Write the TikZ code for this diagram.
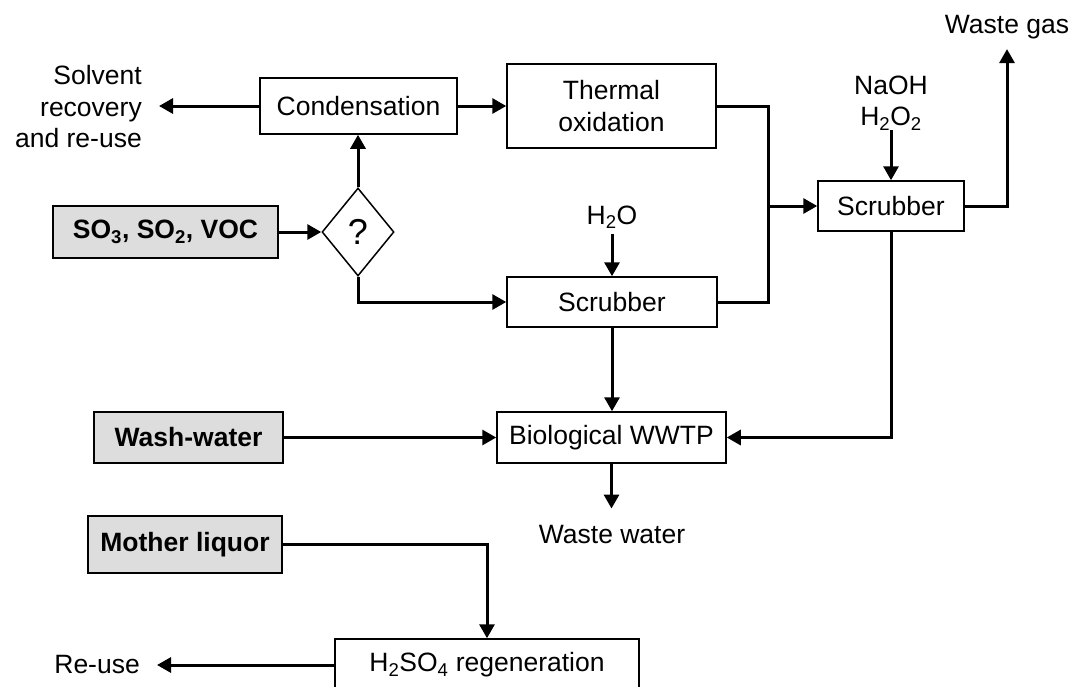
\documentclass[tikz,border=0pt]{standalone}
\usepackage{fontspec}
\setmainfont{Liberation Sans}
\usetikzlibrary{arrows.meta,shapes.geometric}
\definecolor{boxgray}{HTML}{DDDDDD}
\begin{document}
\begin{tikzpicture}[x=1pt,y=-1pt,
  font=\fontsize{26.5}{31.5}\selectfont,
  box/.style={draw, line width=1.5pt, inner sep=0pt, align=center},
  inbox/.style={box, fill=boxgray, font=\fontsize{26.5}{31.5}\selectfont\bfseries},
  lbl/.style={inner sep=0pt, align=center},
  conn/.style={line width=3pt},
  arr/.style={conn, -{Triangle[length=14pt,width=15pt]}},
]
\useasboundingbox (0,0) rectangle (1073,686);

% process boxes
\node[box, minimum width=197pt, minimum height=56pt] (cond) at (358.5,106) {Condensation};
\node[box, minimum width=209pt, minimum height=84pt] (therm) at (611.5,106) {Thermal\\oxidation};
\node[box, minimum width=210pt, minimum height=50pt] (scrub1) at (612,302) {Scrubber};
\node[box, minimum width=146pt, minimum height=50pt] (scrub2) at (891,206) {Scrubber};
\node[box, minimum width=229pt, minimum height=51pt] (bio) at (611.5,437.5) {Biological WWTP};
\node[box, minimum width=304pt, minimum height=52pt] (h2so4) at (487,665) {H\textsubscript{2}SO\textsubscript{4} regeneration};

% input boxes
\node[inbox, minimum width=225pt, minimum height=52pt] (so3) at (165.5,232) {SO\textsubscript{3}, SO\textsubscript{2}, VOC};
\node[inbox, minimum width=189pt, minimum height=51pt] (wash) at (188.5,437.5) {Wash-water};
\node[inbox, minimum width=194pt, minimum height=57pt] (mother) at (185,544.5) {Mother liquor};

% decision
\node[draw, diamond, line width=1.5pt, minimum width=72pt, minimum height=88pt, inner sep=0pt,
      font=\fontsize{36}{40}\selectfont] (dec) at (358,232) {?};

% labels
\node[lbl, anchor=east, align=right] (solvent) at (142,107) {Solvent\\recovery\\and re-use};
\node[lbl] (naoh) at (891,103) {NaOH\\H\textsubscript{2}O\textsubscript{2}};
\node[lbl] (h2o) at (612,217.5) {H\textsubscript{2}O};
\node[lbl] (wgas) at (1007,27) {Waste gas};
\node[lbl] (wwater) at (612,535) {Waste water};
\node[lbl, anchor=east] (reuse) at (140,665) {Re-use};

\coordinate (j) at (768,206);

% connectors
\draw[arr] (so3.east) -- (dec.west);
\draw[arr] (dec.north) -- (dec.north |- cond.south);
\draw[arr, shorten >=17pt] (cond.west) -- (cond.west -| solvent.east);
\draw[arr] (cond.east) -- (cond.east -| therm.west);
\draw[arr] (dec.south) |- (scrub1.west);
\draw[arr, shorten <=5pt] (h2o.south) -- (scrub1.north);
\draw[conn] (therm.east) -| (j);
\draw[conn] (scrub1.east) -| (j);
\draw[arr] (j) -- (scrub2.west);
\draw[arr] (naoh.south) -- (scrub2.north);
\draw[arr, shorten >=10pt] (scrub2.east) -| (wgas.south);
\draw[arr] (scrub2.south) |- (bio.east);
\draw[arr] (scrub1.south) -- (scrub1.south |- bio.north);
\draw[arr] (wash.east) -- (bio.west);
\draw[arr, shorten >=17pt] (bio.south) -- (bio.south |- wwater.north);
\draw[arr] (mother.east) -| (h2so4.north);
\draw[arr, shorten >=17pt] (h2so4.west) -- (h2so4.west -| reuse.east);
\end{tikzpicture}
\end{document}
